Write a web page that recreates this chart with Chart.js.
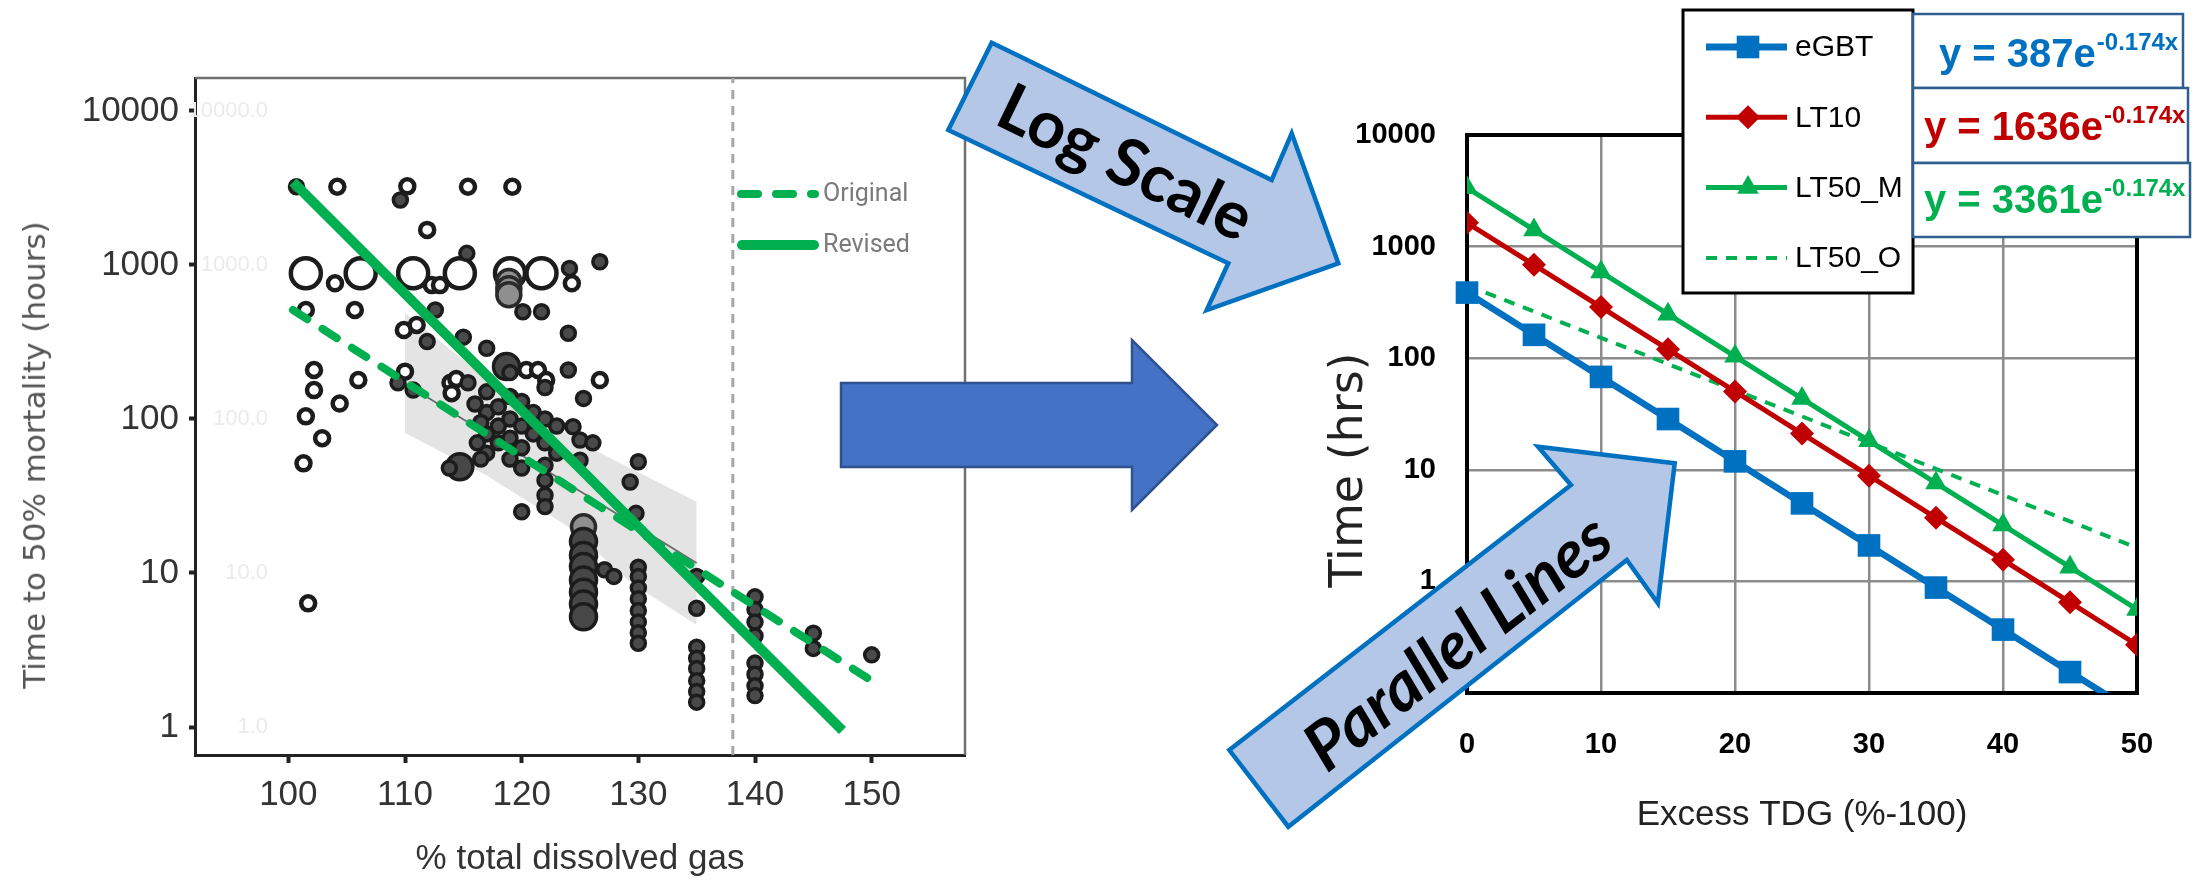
<!DOCTYPE html>
<html>
<head>
<meta charset="utf-8">
<script src="https://cdn.jsdelivr.net/npm/chart.js@4.4.1/dist/chart.umd.min.js"></script>
<style>
html,body{margin:0;padding:0;background:#fff;width:2194px;height:883px;overflow:hidden;}
#wrap{position:relative;width:2194px;height:883px;background:#fff;}
canvas{position:absolute;top:0;}
#c1{left:0;}
#c2{left:1290px;}
.vtitle{position:absolute;transform:translate(-50%,-50%) rotate(-90deg);white-space:nowrap;line-height:1;}
#ytitle1{left:34px;top:455px;font:31px "DejaVu Sans",Verdana,sans-serif;color:#555;}
#ytitle2{left:1346px;top:470px;font:46px "DejaVu Sans",Verdana,sans-serif;color:#222;}
svg{position:absolute;left:0;top:0;}
</style>
</head>
<body>
<div id="wrap">
<canvas id="c1" width="1000" height="883"></canvas>
<canvas id="c2" width="904" height="883"></canvas>
<div id="ytitle1" class="vtitle">Time to 50% mortality (hours)</div>
<div id="ytitle2" class="vtitle">Time (hrs)</div>
<svg width="2194" height="883" viewBox="0 0 2194 883">
  <polygon points="841,383 1132,383 1132,340 1217,425 1132,510 1132,467 841,467" fill="#4472c4" stroke="#2f528f" stroke-width="2.5"/>
  <polygon points="991.7,42.7 1271.7,180 1291.7,133.3 1338.3,263.3 1206.7,310 1228.3,263.3 948.3,130" fill="#b4c7e7" stroke="#0070c0" stroke-width="4.5"/>
  <text transform="translate(1127,160) rotate(25.8)" text-anchor="middle" dominant-baseline="central" font-family="Lato, 'Liberation Sans', sans-serif" font-weight="bold" font-size="66" fill="#000">Log Scale</text>
  <polygon points="1229.3,750 1571,485 1538,446.7 1674.7,463.3 1657.9,603.3 1626.8,560 1288.3,826.7" fill="#b4c7e7" stroke="#0070c0" stroke-width="4.5"/>
  <text transform="translate(1456,640) rotate(-38)" text-anchor="middle" dominant-baseline="central" font-family="Lato, 'Liberation Sans', sans-serif" font-weight="bold" font-style="italic" font-size="67" fill="#000">Parallel Lines</text>
</svg>
</div>
<script>
// ================= DATA =================
// Left chart: % total dissolved gas vs time to 50% mortality (hours)
const tdgTicks = [100, 110, 120, 130, 140, 150];
const mortTicks = [1, 10, 100, 1000, 10000];

const hollowSmallX = [104.2,110.2,115.4,119.2,111.9,104.0,112.3,113.0,124.3,101.5,105.7,109.9,111.0,102.2,102.2,106.0,104.4,101.5,102.9,101.3,110.0,113.9,114.4,114.0,120.4,121.4,122.1,126.7,101.7];
const hollowSmallY = [3220,3240,3220,3220,1690,760,740,740,760,510,510,378,408,208,154,179,126,104,75,51.5,203,172,182,147,208,208,179,179,6.35];

const hollowLargeX = [101.5,106.2,110.7,114.7,119.0,121.7];
const hollowLargeY = [883,883,883,883,883,883];

const grayX = [118.9,118.9,118.9,125.3];
const grayY = [780,700,640,20];

const filledSmallX = [100.7,109.6,115.3,124.1,126.7,120.1,121.7,112.6,111.9,115.0,117.0,124.0,109.4,110.7,115.4,124.0,125.3,124.4,125.0,126.1,125.0,130.0,129.3,129.8,120.0,122.0,122.0,122.0,122.0,127.1,127.9,135.0,135.0,145.0,145.0,150.0,113.8,
  117.0,117.0,117.0,117.0,118.0,118.0,118.0,119.0,119.0,119.0,119.0,119.0,120.0,120.0,120.0,120.0,121.0,121.0,122.0,122.0,122.0,123.0,123.0,116.0,116.5,116.2,116.5,
  130,130,130,130,130,130,130,130,
  135,135,135,135,135,135,
  140,140,140,140,140,140,140,140];
const filledSmallY = [3220,2640,1190,950,1050,497,497,510,318,340,288,360,172,154,172,208,136,89,73,70,54,52.8,39,24.4,25,50,40,32,27,10.5,9.5,9.5,5.9,4.06,3.24,2.94,48,
  150,110,80,60,120,90,70,200,140,100,75,55,130,90,65,48,110,80,160,100,70,90,60,125,95,70,55,
  10.9,9.5,8.0,6.8,5.7,4.8,4.1,3.5,
  3.3,2.8,2.4,2.0,1.7,1.45,
  7.0,5.8,4.8,3.9,2.6,2.2,1.85,1.6];

const filledLargeX = [118.7,114.7,125.3,125.3,125.3,125.3,125.3,125.3,125.3];
const filledLargeY = [219,49,16,13,11,9,7.5,6.3,5.2];

const bandUpperX = [110, 117.5, 125, 135];
const bandUpperY = [488, 170, 70, 29];
const bandLowerX = [110, 117, 124, 129.5, 135];
const bandLowerY = [81, 43, 20, 8.5, 4.6];

const fitX = [110, 135];
const fitY = [170, 11.6];

const originalX = [100.4, 150.3];
const originalY = [510, 1.93];
const revisedX = [100.4, 147.5];
const revisedY = [3460, 0.95];

const criticalTDG = 138.1;

// Right chart: excess TDG vs time (hrs)
const excessTDG = [0, 5, 10, 15, 20, 25, 30, 35, 40, 45, 50];
const eGBT   = [387, 162, 68.0, 28.5, 11.9, 5.0, 2.10, 0.88, 0.37, 0.154, 0.065];
const LT10   = [1636, 686, 287, 120, 50.4, 21.1, 8.85, 3.71, 1.56, 0.65, 0.27];
const LT50_M = [3361, 1409, 591, 248, 104, 43.5, 18.2, 7.6, 3.2, 1.34, 0.56];
const LT50_O = [450, 262, 152, 88.7, 51.6, 30.1, 17.5, 10.2, 5.93, 3.45, 2.0];
const excessTicks = [0, 10, 20, 30, 40, 50];
const timeTicks = [0.1, 1, 10, 100, 1000, 10000];
const eqCoef = [387, 1636, 3361];
const eqExponent = '-0.174x';

// ================= HELPERS =================
const pts = (xs, ys) => xs.map((x, i) => ({x, y: ys[i]}));
Chart.defaults.font.family = '"Liberation Sans", Arial, sans-serif';
const GREEN = '#00b050', BLUE = '#0070c0', RED = '#c00000';

// ================= LEFT CHART =================
const leftDecor = {
  id: 'leftDecor',
  beforeDatasetsDraw(chart) {
    const {ctx, chartArea: a, scales: {y}} = chart;
    ctx.save();
    ctx.font = '22px "Liberation Sans", Arial, sans-serif';
    ctx.fillStyle = '#ebebeb';
    ctx.textAlign = 'right';
    ctx.textBaseline = 'middle';
    mortTicks.forEach(v => ctx.fillText(v.toFixed(1), a.left + 73, y.getPixelForValue(v)));
    ctx.strokeStyle = '#707070';
    ctx.lineWidth = 2.5;
    ctx.beginPath();
    ctx.moveTo(a.left, a.top);
    ctx.lineTo(a.right, a.top);
    ctx.lineTo(a.right, a.bottom);
    ctx.stroke();
    ctx.restore();
  },
  afterDraw(chart) {
    const {ctx} = chart;
    const ds = chart.data.datasets;
    const orig = ds.find(d => d.label === 'Original');
    const rev = ds.find(d => d.label === 'Revised');
    ctx.save();
    ctx.strokeStyle = GREEN;
    ctx.lineCap = 'round';
    ctx.lineWidth = 8;
    ctx.setLineDash([17, 18]);
    ctx.beginPath(); ctx.moveTo(741, 194); ctx.lineTo(815, 194); ctx.stroke();
    ctx.setLineDash([]);
    ctx.lineWidth = 10;
    ctx.beginPath(); ctx.moveTo(742, 245); ctx.lineTo(814, 245); ctx.stroke();
    ctx.font = '25px Roboto, "Noto Sans", sans-serif';
    ctx.fillStyle = '#7a7a7a';
    ctx.textAlign = 'left';
    ctx.textBaseline = 'middle';
    ctx.fillText(orig.label, 823, 195);
    ctx.fillText(rev.label, 823, 246);
    ctx.restore();
  }
};

new Chart(document.getElementById('c1'), {
  type: 'scatter',
  data: {
    datasets: [
      {type: 'line', label: 'CI upper', data: pts(bandUpperX, bandUpperY), borderWidth: 0, pointRadius: 0, fill: '+1', backgroundColor: 'rgba(205,205,205,0.55)', order: 20, tension: 0},
      {type: 'line', label: 'CI lower', data: pts(bandLowerX, bandLowerY), borderWidth: 0, pointRadius: 0, fill: false, order: 20, tension: 0},
      {label: 'Fit', data: pts(fitX, fitY), showLine: true, borderColor: '#6a6a6a', borderWidth: 1.8, pointRadius: 0, order: 15},
      {label: 'Hollow large', data: pts(hollowLargeX, hollowLargeY), pointRadius: 15, pointBackgroundColor: 'rgba(255,255,255,0.85)', pointBorderColor: '#1c1c1c', pointBorderWidth: 4.5, order: 12},
      {label: 'Hollow', data: pts(hollowSmallX, hollowSmallY), pointRadius: 7, pointBackgroundColor: '#ffffff', pointBorderColor: '#1c1c1c', pointBorderWidth: 4.5, order: 11},
      {label: 'Gray', data: pts(grayX, grayY), pointRadius: 12, pointBackgroundColor: '#8f8f8f', pointBorderColor: '#2a2a2a', pointBorderWidth: 3.5, order: 10},
      {label: 'Filled large', data: pts(filledLargeX, filledLargeY), pointRadius: 13, pointBackgroundColor: '#474747', pointBorderColor: '#1c1c1c', pointBorderWidth: 3.5, order: 9},
      {label: 'Filled', data: pts(filledSmallX, filledSmallY), pointRadius: 7, pointBackgroundColor: '#4a4a4a', pointBorderColor: '#1c1c1c', pointBorderWidth: 3.5, order: 8},
      {label: 'Critical', data: [{x: criticalTDG, y: 0.658}, {x: criticalTDG, y: 16370}], showLine: true, borderColor: '#a6a6a6', borderWidth: 3, borderDash: [9, 7], pointRadius: 0, order: 5},
      {label: 'Original', data: pts(originalX, originalY), showLine: true, borderColor: GREEN, borderWidth: 8, borderDash: [17, 18], borderCapStyle: 'round', pointRadius: 0, order: 2},
      {label: 'Revised', data: pts(revisedX, revisedY), showLine: true, borderColor: GREEN, borderWidth: 10, pointRadius: 0, order: 1}
    ]
  },
  options: {
    responsive: false,
    animation: false,
    devicePixelRatio: 1,
    events: [],
    layout: {padding: {left: 0, top: 78, right: 35, bottom: 0}},
    plugins: {legend: {display: false}, tooltip: {enabled: false}},
    scales: {
      x: {
        type: 'linear', min: 92, max: 158,
        afterFit: s => { s.height = 128; },
        afterBuildTicks: s => { s.ticks = tdgTicks.map(v => ({value: v})); },
        ticks: {font: {size: 35}, color: '#333', padding: 11, maxRotation: 0, callback: v => String(v)},
        grid: {display: true, drawOnChartArea: false, drawTicks: true, tickLength: 8, tickWidth: 4, tickColor: '#222'},
        border: {display: true, color: '#222', width: 3},
        title: {display: true, text: '% total dissolved gas', font: {size: 35}, color: '#333', padding: {top: 0, bottom: 3}}
      },
      y: {
        type: 'logarithmic', min: 0.658, max: 16370,
        afterFit: s => { s.width = 195; },
        afterBuildTicks: s => { s.ticks = mortTicks.map(v => ({value: v})); },
        ticks: {font: {size: 35}, color: '#333', padding: 10, callback: v => String(v)},
        grid: {display: true, drawOnChartArea: false, drawTicks: true, tickLength: 6, tickWidth: 4, tickColor: '#222'},
        border: {display: true, color: '#222', width: 3},
        title: {display: false}
      }
    }
  },
  plugins: [leftDecor]
});

// ================= RIGHT CHART =================
const seriesStyle = [
  {color: BLUE, lw: 7, style: 'rect', r: 16, dash: []},
  {color: RED, lw: 5, style: 'rectRot', r: 12, dash: []},
  {color: GREEN, lw: 5, style: 'triangle', r: 12.5, dash: []},
  {color: GREEN, lw: 4, style: false, r: 0, dash: [11, 9]}
];
const eqColors = [BLUE, RED, GREEN];

const rightDecor = {
  id: 'rightDecor',
  beforeDatasetsDraw(chart) {
    const {ctx, chartArea: a} = chart;
    ctx.save();
    ctx.strokeStyle = '#000';
    ctx.lineWidth = 4;
    ctx.strokeRect(a.left, a.top, a.right - a.left, a.bottom - a.top);
    ctx.restore();
  },
  afterDraw(chart) {
    const {ctx} = chart;
    const ox = 1290;
    ctx.save();
    ctx.fillStyle = '#fff';
    ctx.fillRect(1683 - ox, 10, 230, 283);
    ctx.strokeStyle = '#000';
    ctx.lineWidth = 3;
    ctx.strokeRect(1683 - ox, 10, 230, 283);
    chart.data.datasets.forEach((d, i) => {
      const st = seriesStyle[i];
      const y = 47 + i * 70.3;
      ctx.strokeStyle = st.color;
      ctx.lineWidth = st.lw;
      ctx.setLineDash(st.dash);
      ctx.lineCap = 'butt';
      ctx.beginPath(); ctx.moveTo(1706 - ox, y); ctx.lineTo(1787 - ox, y); ctx.stroke();
      ctx.setLineDash([]);
      if (st.style) {
        ctx.fillStyle = st.color;
        Chart.helpers.drawPoint(ctx, {pointStyle: st.style, radius: st.r, borderWidth: 0, rotation: 0}, 1748 - ox, y);
      }
      ctx.fillStyle = '#000';
      ctx.font = '30px "Liberation Sans", Arial, sans-serif';
      ctx.textAlign = 'left';
      ctx.textBaseline = 'middle';
      ctx.fillText(d.label, 1795 - ox, y + 1);
    });
    const boxes = [[1913, 14, 270, 74], [1913, 88, 275, 75], [1913, 163, 277, 74]];
    const textX = [1939, 1924, 1924];
    const baseY = [67, 140, 213];
    boxes.forEach((b, i) => {
      ctx.fillStyle = '#fff';
      ctx.fillRect(b[0] - ox, b[1], b[2], b[3]);
      ctx.strokeStyle = '#2f5f8f';
      ctx.lineWidth = 2.5;
      ctx.strokeRect(b[0] - ox, b[1], b[2], b[3]);
      const main = 'y = ' + eqCoef[i] + 'e';
      ctx.fillStyle = eqColors[i];
      ctx.textAlign = 'left';
      ctx.textBaseline = 'alphabetic';
      ctx.font = 'bold 40px "Liberation Sans", Arial, sans-serif';
      ctx.fillText(main, textX[i] - ox, baseY[i]);
      const w = ctx.measureText(main).width;
      ctx.font = 'bold 24px "Liberation Sans", Arial, sans-serif';
      ctx.fillText(eqExponent, textX[i] - ox + w + 1, baseY[i] - 17);
    });
    ctx.restore();
  }
};

const mk = arr => excessTDG.map((x, i) => ({x, y: arr[i]}));
new Chart(document.getElementById('c2'), {
  type: 'line',
  data: {
    datasets: [
      {label: 'eGBT', data: mk(eGBT), borderColor: BLUE, borderWidth: 6.5, pointStyle: 'rect', pointRadius: 16, pointBackgroundColor: BLUE, pointBorderWidth: 0, order: 3, clip: {left: 20, top: 20, right: 20, bottom: 0}},
      {label: 'LT10', data: mk(LT10), borderColor: RED, borderWidth: 5, pointStyle: 'rectRot', pointRadius: 12, pointBackgroundColor: RED, pointBorderWidth: 0, order: 2},
      {label: 'LT50_M', data: mk(LT50_M), borderColor: GREEN, borderWidth: 5, pointStyle: 'triangle', pointRadius: 12.5, pointBackgroundColor: GREEN, pointBorderWidth: 0, order: 1},
      {label: 'LT50_O', data: mk(LT50_O), borderColor: GREEN, borderWidth: 4, borderDash: [11, 9], pointRadius: 0, order: 4}
    ]
  },
  options: {
    responsive: false,
    animation: false,
    devicePixelRatio: 1,
    events: [],
    layout: {padding: {left: 0, top: 135, right: 57, bottom: 0}},
    elements: {line: {tension: 0}},
    plugins: {legend: {display: false}, tooltip: {enabled: false}},
    scales: {
      x: {
        type: 'linear', min: 0, max: 50,
        afterFit: s => { s.height = 190; },
        afterBuildTicks: s => { s.ticks = excessTicks.map(v => ({value: v})); },
        ticks: {font: {size: 29, weight: 'bold'}, color: '#000', padding: 35, maxRotation: 0, callback: v => String(v)},
        grid: {color: '#8c8c8c', lineWidth: 2.5, drawTicks: false},
        border: {display: false},
        title: {display: true, text: 'Excess TDG (%-100)', font: {size: 35}, color: '#222', padding: {top: 0, bottom: 47}}
      },
      y: {
        type: 'logarithmic', min: 0.1, max: 10000,
        afterFit: s => { s.width = 177; },
        afterBuildTicks: s => { s.ticks = timeTicks.map(v => ({value: v})); },
        ticks: {font: {size: 29, weight: 'bold'}, color: '#000', padding: 31, callback: v => (v >= 1 ? String(v) : '')},
        grid: {color: '#8c8c8c', lineWidth: 2.5, drawTicks: false},
        border: {display: false}
      }
    }
  },
  plugins: [rightDecor]
});
</script>
</body>
</html>
